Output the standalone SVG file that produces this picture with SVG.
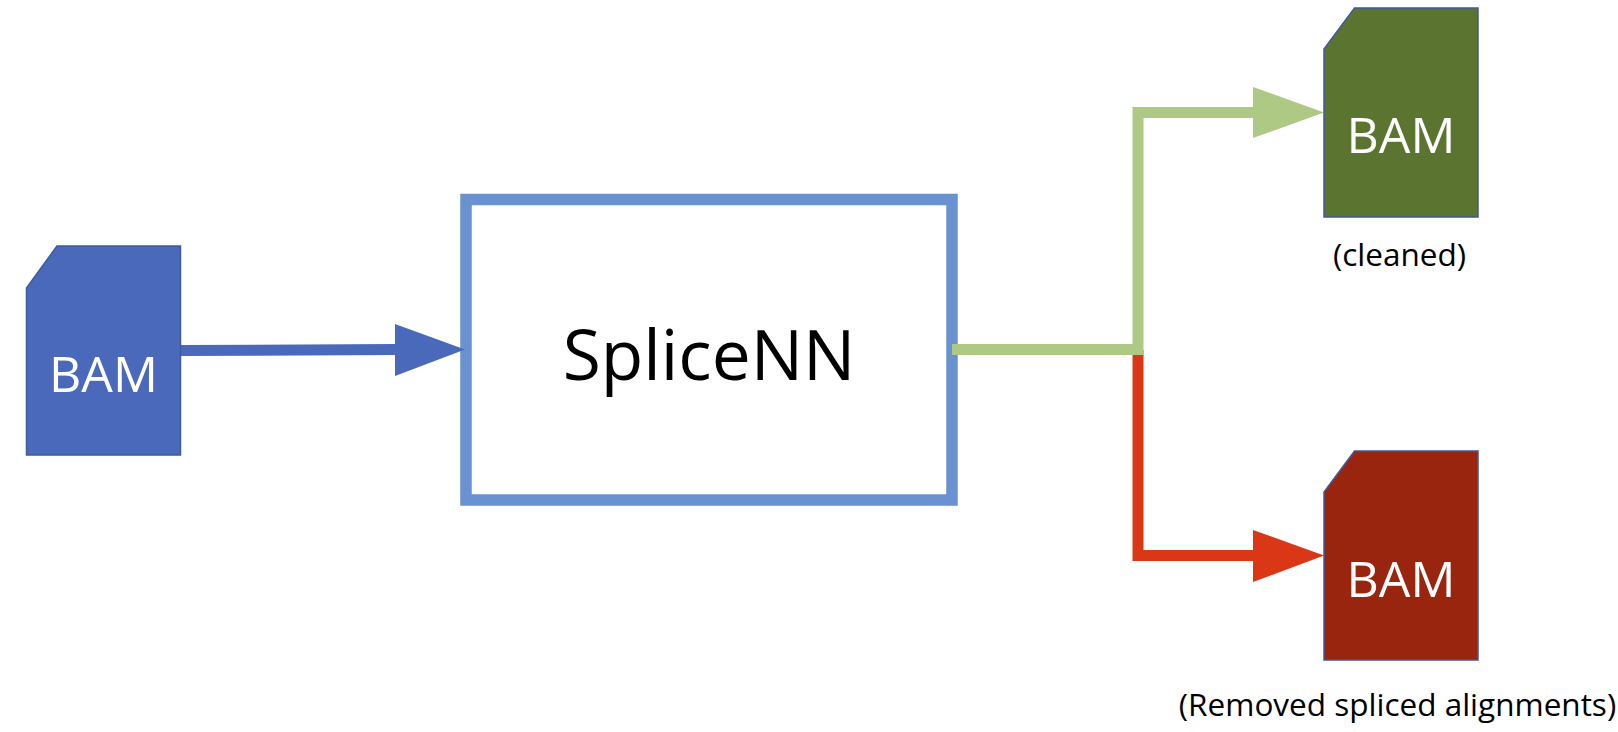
<svg xmlns="http://www.w3.org/2000/svg" width="1618" height="732" viewBox="0 0 1618 732">
<style>
.card{stroke:#3F5A9E;stroke-width:1.5}
.t{font-family:"Open Sans","Liberation Sans",sans-serif}
.bam{font-size:50px;fill:#fff;text-anchor:middle}
.cap{font-size:31.500px;fill:#000;text-anchor:middle}
.ln{fill:none;stroke-width:11}
</style>
<rect width="1618" height="732" fill="#fff"/>
<g id="splicenn">
<rect x="466" y="199.500" width="486" height="300.500" fill="none" stroke="#6A91D0" stroke-width="11.500"/>
<text class="t" x="709" y="380" font-size="69.500" text-anchor="middle" fill="#000">SpliceNN</text>
</g>
<g id="connectors">
<path class="ln" d="M180 350.500L396 349.500" stroke="#4A69BB"/>
<polygon points="395,324 465,349.500 395,376" fill="#4A69BB"/>
<path class="ln" d="M1138 350V555.500H1254" stroke="#D93716"/>
<polygon points="1253,530 1324,555.500 1253,582" fill="#D93716"/>
<path class="ln" d="M952 349.500H1138V112.500H1254" stroke="#AEC984"/>
<polygon points="1253,87 1324,112.500 1253,138" fill="#AEC984"/>
</g>
<g id="bam-input">
<polygon class="card" points="57,246 180.500,246 180.500,455 26.500,455 26.500,288" fill="#4A69BB"/>
<text class="t bam" x="103.500" y="391.500">BAM</text>
</g>
<g id="bam-cleaned">
<polygon class="card" points="1354.500,8 1478,8 1478,217 1324,217 1324,49" fill="#5B7530"/>
<text class="t bam" x="1401" y="153">BAM</text>
<text class="t cap" x="1399.500" y="266">(cleaned)</text>
</g>
<g id="bam-removed">
<polygon class="card" points="1354.500,451 1478,451 1478,660 1324,660 1324,492" fill="#9A250E"/>
<text class="t bam" x="1401" y="597">BAM</text>
<text class="t cap" x="1397.500" y="716">(Removed spliced alignments)</text>
</g>
</svg>
